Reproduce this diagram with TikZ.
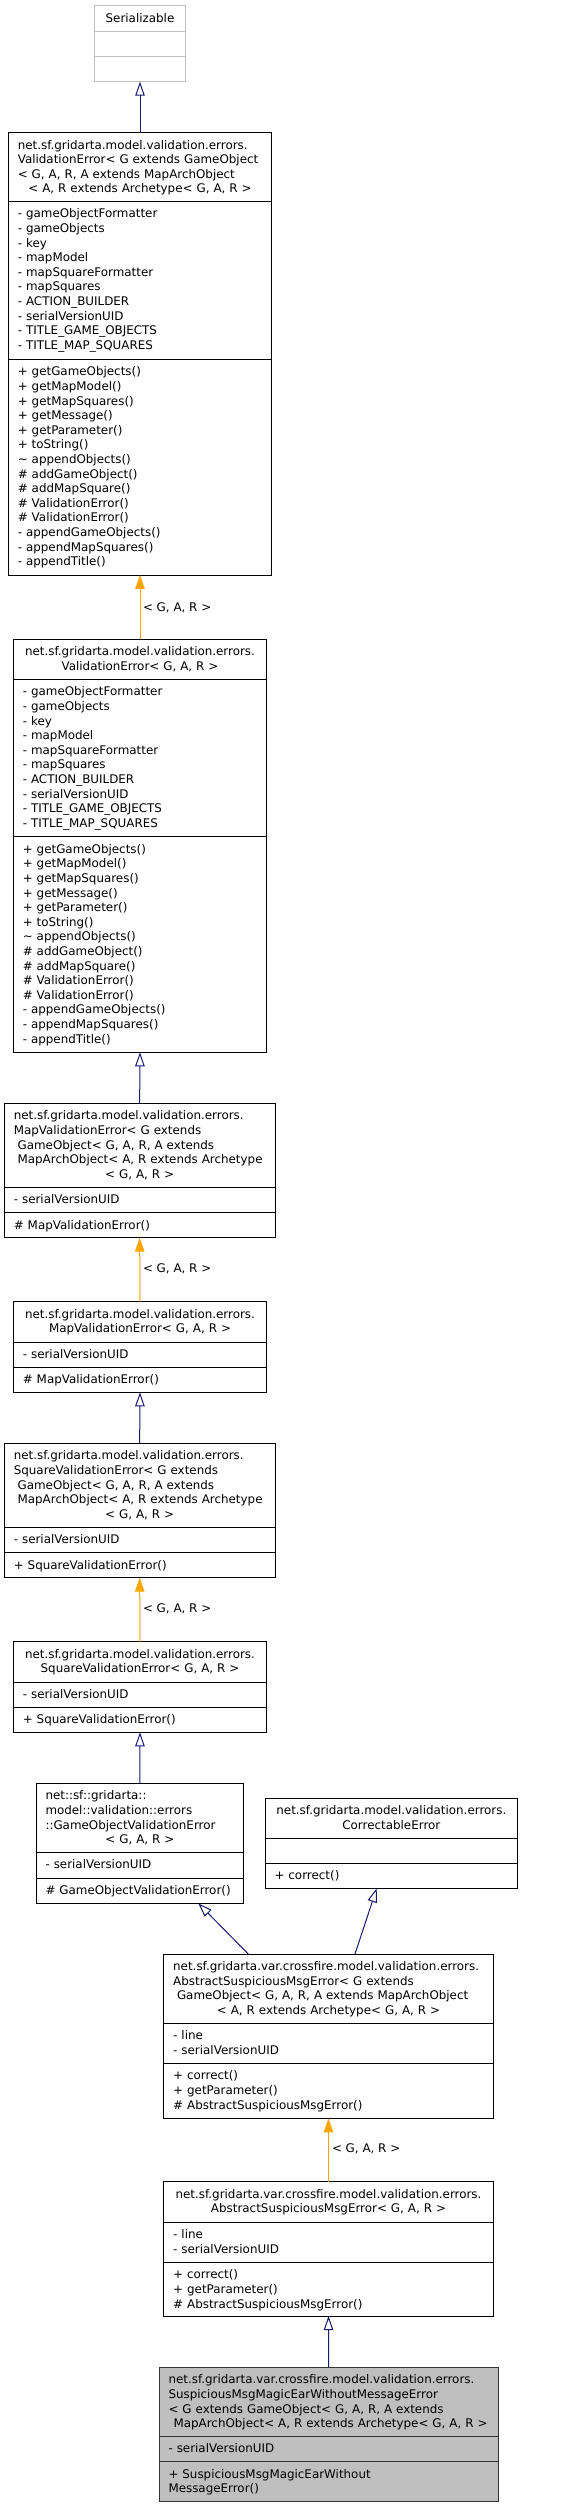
\documentclass[tikz,border=0pt]{standalone}
\usepackage{fontspec}
\setmainfont{DejaVu Sans}
\usetikzlibrary{arrows.meta,fit}
\definecolor{mblue}{HTML}{191970}
\definecolor{dorange}{HTML}{FFA500}
\definecolor{greyb}{HTML}{BFBFBF}
\tikzset{
  umlbox/.style={draw=black, line width=1pt, inner sep=0pt, outer sep=0pt, fill=white},
  extbox/.style={umlbox, draw=greyb},
  rootbox/.style={umlbox, draw=black!80, fill=greyb},
  sepline/.style={draw=black, line width=1pt},
  extsep/.style={draw=greyb, line width=1pt},
  txt/.style={inner sep=0pt, outer sep=0pt, align=left, anchor=north west,
    font=\fontsize{11.9pt}{14.6pt}\selectfont},
  lbl/.style={inner sep=0pt, outer sep=0pt, anchor=base west,
    font=\fontsize{11.9pt}{14.6pt}\selectfont},
  inherit/.style={draw=mblue, line width=1pt, -{Triangle[open,length=14pt,width=9.5pt]}},
  tmpl/.style={draw=dorange, line width=1pt, -{Triangle[length=14pt,width=9.5pt]}},
}
\newcommand\cl[1]{\makebox[\linewidth]{#1}}
\newcommand\lsp{\hspace*{3.8pt}}
\begin{document}
\begin{tikzpicture}[x=1pt,y=-1pt]
\useasboundingbox (0,0) rectangle (565,2508);

% ---------- Serializable
\node[extbox, fit={(94.3,5.7) (185.7,81.7)}] (ser) {};
\draw[extsep] (94.3,31.3) -- (185.7,31.3);
\draw[extsep] (94.3,56.7) -- (185.7,56.7);
\node[txt, text width=72.4pt] (ser-t) at (103.8,12.0) {\strut\cl{Serializable}};

% ---------- ValidationError generic
\node[umlbox, fit={(8.3,132.5) (271.7,575)}] (ve) {};
\draw[sepline] (8.3,201.3) -- (271.7,201.3);
\draw[sepline] (8.3,359.3) -- (271.7,359.3);
\node[txt, text width=244.4pt] (ve-t) at (17.8,138.8) {\strut net.sf.gridarta.model.validation.errors.\\
ValidationError< G extends GameObject\\
< G, A, R, A extends MapArchObject\\
\cl{< A, R extends Archetype< G, A, R >}};
\node[txt, text width=244.4pt] (ve-a) at (17.8,207.6) {\strut - gameObjectFormatter\\
- gameObjects\\
- key\\
- mapModel\\
- mapSquareFormatter\\
- mapSquares\\
- ACTION\_BUILDER\\
- serialVersionUID\\
- TITLE\_GAME\_OBJECTS\\
- TITLE\_MAP\_SQUARES};
\node[txt, text width=244.4pt] (ve-m) at (17.8,365.6) {\strut + getGameObjects()\\
+ getMapModel()\\
+ getMapSquares()\\
+ getMessage()\\
+ getParameter()\\
+ toString()\\
\textasciitilde{} appendObjects()\\
\# addGameObject()\\
\# addMapSquare()\\
\# ValidationError()\\
\# ValidationError()\\
- appendGameObjects()\\
- appendMapSquares()\\
- appendTitle()};

% ---------- ValidationError< G, A, R >
\node[umlbox, fit={(13.3,639.3) (266.7,1052.3)}] (vei) {};
\draw[sepline] (13.3,679.3) -- (266.7,679.3);
\draw[sepline] (13.3,836.7) -- (266.7,836.7);
\node[txt, text width=234.4pt] (vei-t) at (22.8,645.6) {\strut\cl{net.sf.gridarta.model.validation.errors.}\\
\cl{ValidationError< G, A, R >}};
\node[txt, text width=234.4pt] (vei-a) at (22.8,685.6) {\strut - gameObjectFormatter\\
- gameObjects\\
- key\\
- mapModel\\
- mapSquareFormatter\\
- mapSquares\\
- ACTION\_BUILDER\\
- serialVersionUID\\
- TITLE\_GAME\_OBJECTS\\
- TITLE\_MAP\_SQUARES};
\node[txt, text width=234.4pt] (vei-m) at (22.8,843.0) {\strut + getGameObjects()\\
+ getMapModel()\\
+ getMapSquares()\\
+ getMessage()\\
+ getParameter()\\
+ toString()\\
\textasciitilde{} appendObjects()\\
\# addGameObject()\\
\# addMapSquare()\\
\# ValidationError()\\
\# ValidationError()\\
- appendGameObjects()\\
- appendMapSquares()\\
- appendTitle()};

% ---------- MapValidationError generic
\node[umlbox, fit={(4.3,1103.3) (275,1237.7)}] (mve) {};
\draw[sepline] (4.3,1187.3) -- (275,1187.3);
\draw[sepline] (4.3,1212.7) -- (275,1212.7);
\node[txt, text width=251.7pt] (mve-t) at (13.8,1109.6) {\strut net.sf.gridarta.model.validation.errors.\\
MapValidationError< G extends\\
\lsp GameObject< G, A, R, A extends\\
\lsp MapArchObject< A, R extends Archetype\\
\cl{< G, A, R >}};
\node[txt, text width=251.7pt] (mve-a) at (13.8,1193.6) {\strut - serialVersionUID};
\node[txt, text width=251.7pt] (mve-m) at (13.8,1219.0) {\strut \# MapValidationError()};

% ---------- MapValidationError< G, A, R >
\node[umlbox, fit={(13.3,1301.7) (266.7,1392.3)}] (mvei) {};
\draw[sepline] (13.3,1342) -- (266.7,1342);
\draw[sepline] (13.3,1367.3) -- (266.7,1367.3);
\node[txt, text width=234.4pt] (mvei-t) at (22.8,1308.0) {\strut\cl{net.sf.gridarta.model.validation.errors.}\\
\cl{MapValidationError< G, A, R >}};
\node[txt, text width=234.4pt] (mvei-a) at (22.8,1348.3) {\strut - serialVersionUID};
\node[txt, text width=234.4pt] (mvei-m) at (22.8,1373.6) {\strut \# MapValidationError()};

% ---------- SquareValidationError generic
\node[umlbox, fit={(4.3,1443.3) (275,1577.7)}] (sve) {};
\draw[sepline] (4.3,1527.3) -- (275,1527.3);
\draw[sepline] (4.3,1552.7) -- (275,1552.7);
\node[txt, text width=251.7pt] (sve-t) at (13.8,1449.6) {\strut net.sf.gridarta.model.validation.errors.\\
SquareValidationError< G extends\\
\lsp GameObject< G, A, R, A extends\\
\lsp MapArchObject< A, R extends Archetype\\
\cl{< G, A, R >}};
\node[txt, text width=251.7pt] (sve-a) at (13.8,1533.6) {\strut - serialVersionUID};
\node[txt, text width=251.7pt] (sve-m) at (13.8,1559.0) {\strut + SquareValidationError()};

% ---------- SquareValidationError< G, A, R >
\node[umlbox, fit={(13.3,1641.7) (266.7,1732.3)}] (svei) {};
\draw[sepline] (13.3,1682) -- (266.7,1682);
\draw[sepline] (13.3,1707) -- (266.7,1707);
\node[txt, text width=234.4pt] (svei-t) at (22.8,1648.0) {\strut\cl{net.sf.gridarta.model.validation.errors.}\\
\cl{SquareValidationError< G, A, R >}};
\node[txt, text width=234.4pt] (svei-a) at (22.8,1688.3) {\strut - serialVersionUID};
\node[txt, text width=234.4pt] (svei-m) at (22.8,1713.3) {\strut + SquareValidationError()};

% ---------- GameObjectValidationError
\node[umlbox, fit={(36,1783.3) (243.7,1903.3)}] (gove) {};
\draw[sepline] (36,1852.3) -- (243.7,1852.3);
\draw[sepline] (36,1878.3) -- (243.7,1878.3);
\node[txt, text width=188.7pt] (gove-t) at (45.5,1789.6) {\strut net::sf::gridarta::\\
model::validation::errors\\
::GameObjectValidationError\\
\cl{< G, A, R >}};
\node[txt, text width=188.7pt] (gove-a) at (45.5,1858.6) {\strut - serialVersionUID};
\node[txt, text width=188.7pt] (gove-m) at (45.5,1884.6) {\strut \# GameObjectValidationError()};

% ---------- CorrectableError
\node[umlbox, fit={(265,1798.3) (517.7,1888.3)}] (ce) {};
\draw[sepline] (265,1838.3) -- (517.7,1838.3);
\draw[sepline] (265,1863.3) -- (517.7,1863.3);
\node[txt, text width=233.7pt] (ce-t) at (274.5,1804.6) {\strut\cl{net.sf.gridarta.model.validation.errors.}\\
\cl{CorrectableError}};
\node[txt, text width=233.7pt] (ce-m) at (274.5,1869.6) {\strut + correct()};

% ---------- AbstractSuspiciousMsgError generic
\node[umlbox, fit={(163.7,1954) (493.3,2118.3)}] (asme) {};
\draw[sepline] (163.7,2023.3) -- (493.3,2023.3);
\draw[sepline] (163.7,2063.3) -- (493.3,2063.3);
\node[txt, text width=310.6pt] (asme-t) at (173.2,1960.3) {\strut net.sf.gridarta.var.crossfire.model.validation.errors.\\
AbstractSuspiciousMsgError< G extends\\
\lsp GameObject< G, A, R, A extends MapArchObject\\
\cl{< A, R extends Archetype< G, A, R >}};
\node[txt, text width=310.6pt] (asme-a) at (173.2,2029.6) {\strut - line\\
- serialVersionUID};
\node[txt, text width=310.6pt] (asme-m) at (173.2,2069.6) {\strut + correct()\\
+ getParameter()\\
\# AbstractSuspiciousMsgError()};

% ---------- AbstractSuspiciousMsgError< G, A, R >
\node[umlbox, fit={(163.7,2181.7) (493.3,2316)}] (asmei) {};
\draw[sepline] (163.7,2222.3) -- (493.3,2222.3);
\draw[sepline] (163.7,2262.3) -- (493.3,2262.3);
\node[txt, text width=310.6pt] (asmei-t) at (173.2,2188.0) {\strut\cl{net.sf.gridarta.var.crossfire.model.validation.errors.}\\
\cl{AbstractSuspiciousMsgError< G, A, R >}};
\node[txt, text width=310.6pt] (asmei-a) at (173.2,2228.6) {\strut - line\\
- serialVersionUID};
\node[txt, text width=310.6pt] (asmei-m) at (173.2,2268.6) {\strut + correct()\\
+ getParameter()\\
\# AbstractSuspiciousMsgError()};

% ---------- SuspiciousMsgMagicEarWithoutMessageError (root)
\node[rootbox, fit={(159,2367.3) (498.3,2501.7)}] (root) {};
\draw[sepline, draw=black!80] (159,2436) -- (498.3,2436);
\draw[sepline, draw=black!80] (159,2461.7) -- (498.3,2461.7);
\node[txt, text width=320.3pt] (root-t) at (168.5,2373.6) {\strut net.sf.gridarta.var.crossfire.model.validation.errors.\\
SuspiciousMsgMagicEarWithoutMessageError\\
< G extends GameObject< G, A, R, A extends\\
\cl{\lsp MapArchObject< A, R extends Archetype< G, A, R >}};
\node[txt, text width=320.3pt] (root-a) at (168.5,2442.3) {\strut - serialVersionUID};
\node[txt, text width=320.3pt] (root-m) at (168.5,2468.0) {\strut + SuspiciousMsgMagicEarWithout\\
MessageError()};

% ---------- connectors
\coordinate (x248) at (248.3,0);
\coordinate (x198) at (198.3,0);
\coordinate (x355) at (355,0);
\coordinate (x377) at (376.7,0);

\draw[inherit] (ve.north) -- (ser.south);
\draw[tmpl] (vei.north) -- (ve.south);
\node[lbl] (l1) at (143,611) {< G, A, R >};
\draw[inherit] (mve.north) -- (vei.south);
\draw[tmpl] (mvei.north) -- (mve.south);
\node[lbl] (l2) at (143,1272.6) {< G, A, R >};
\draw[inherit] (sve.north) -- (mvei.south);
\draw[tmpl] (svei.north) -- (sve.south);
\node[lbl] (l3) at (143,1612.6) {< G, A, R >};
\draw[inherit] (gove.north) -- (svei.south);
\draw[inherit] (asme.north -| x248) -- (gove.south -| x198);
\draw[inherit] (asme.north -| x355) -- (ce.south -| x377);
\draw[tmpl] (asmei.north) -- (asme.south);
\node[lbl] (l4) at (332,2152.6) {< G, A, R >};
\draw[inherit] (root.north) -- (asmei.south);
\end{tikzpicture}
\end{document}
